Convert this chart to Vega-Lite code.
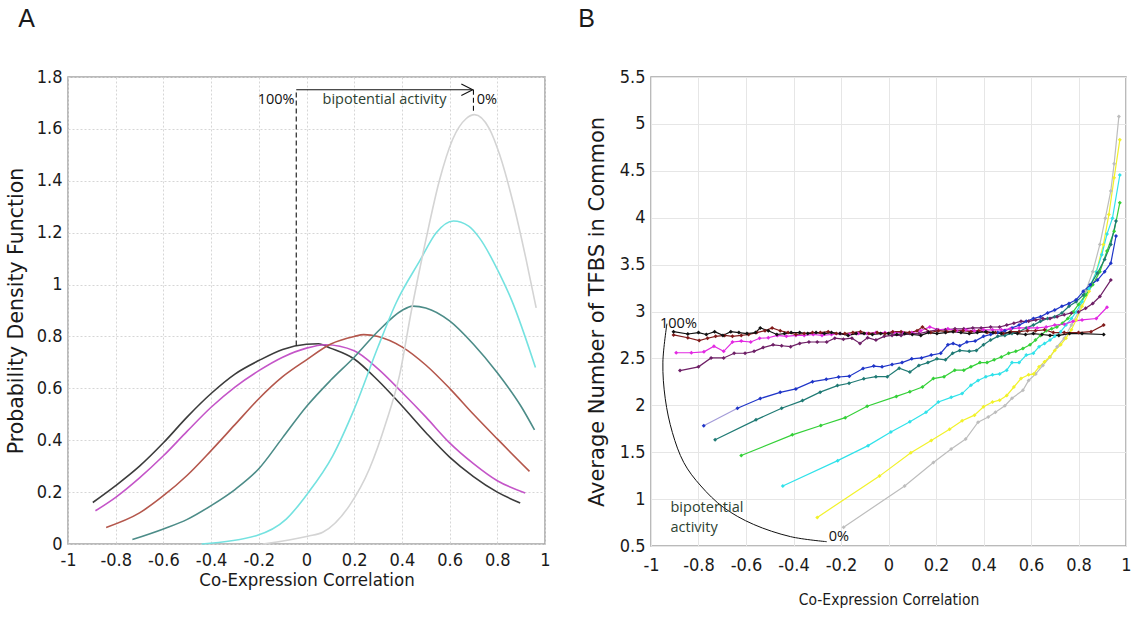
{
  "$schema": "https://vega.github.io/schema/vega-lite/v6.json",
  "background": "white",
  "padding": {"left": 5, "top": 6, "right": 5, "bottom": 5},
  "spacing": 26,
  "datasets": {
    "pdf": [
      {"c": "a1", "x": -0.896, "y": 0.16}, {"c": "a1", "x": -0.8, "y": 0.225}, {"c": "a1", "x": -0.7, "y": 0.3},
      {"c": "a1", "x": -0.6, "y": 0.39}, {"c": "a1", "x": -0.5, "y": 0.49}, {"c": "a1", "x": -0.4, "y": 0.58},
      {"c": "a1", "x": -0.3, "y": 0.655}, {"c": "a1", "x": -0.2, "y": 0.707}, {"c": "a1", "x": -0.1, "y": 0.75},
      {"c": "a1", "x": 0, "y": 0.77}, {"c": "a1", "x": 0.05, "y": 0.772}, {"c": "a1", "x": 0.1, "y": 0.755},
      {"c": "a1", "x": 0.2, "y": 0.713}, {"c": "a1", "x": 0.3, "y": 0.63}, {"c": "a1", "x": 0.4, "y": 0.533},
      {"c": "a1", "x": 0.5, "y": 0.43}, {"c": "a1", "x": 0.6, "y": 0.335}, {"c": "a1", "x": 0.7, "y": 0.26},
      {"c": "a1", "x": 0.8, "y": 0.2}, {"c": "a1", "x": 0.896, "y": 0.158},

      {"c": "a2", "x": -0.885, "y": 0.128}, {"c": "a2", "x": -0.8, "y": 0.18}, {"c": "a2", "x": -0.7, "y": 0.255},
      {"c": "a2", "x": -0.6, "y": 0.34}, {"c": "a2", "x": -0.5, "y": 0.435}, {"c": "a2", "x": -0.4, "y": 0.527},
      {"c": "a2", "x": -0.3, "y": 0.605}, {"c": "a2", "x": -0.2, "y": 0.668}, {"c": "a2", "x": -0.1, "y": 0.72},
      {"c": "a2", "x": 0, "y": 0.755}, {"c": "a2", "x": 0.08, "y": 0.768}, {"c": "a2", "x": 0.2, "y": 0.745},
      {"c": "a2", "x": 0.3, "y": 0.675}, {"c": "a2", "x": 0.4, "y": 0.585}, {"c": "a2", "x": 0.5, "y": 0.49},
      {"c": "a2", "x": 0.6, "y": 0.39}, {"c": "a2", "x": 0.7, "y": 0.31}, {"c": "a2", "x": 0.8, "y": 0.244},
      {"c": "a2", "x": 0.917, "y": 0.197},

      {"c": "a3", "x": -0.84, "y": 0.064}, {"c": "a3", "x": -0.7, "y": 0.12}, {"c": "a3", "x": -0.6, "y": 0.186},
      {"c": "a3", "x": -0.5, "y": 0.265}, {"c": "a3", "x": -0.4, "y": 0.36}, {"c": "a3", "x": -0.3, "y": 0.46},
      {"c": "a3", "x": -0.2, "y": 0.56}, {"c": "a3", "x": -0.1, "y": 0.645}, {"c": "a3", "x": 0, "y": 0.71},
      {"c": "a3", "x": 0.1, "y": 0.77}, {"c": "a3", "x": 0.2, "y": 0.8}, {"c": "a3", "x": 0.24, "y": 0.807},
      {"c": "a3", "x": 0.3, "y": 0.8}, {"c": "a3", "x": 0.4, "y": 0.76}, {"c": "a3", "x": 0.5, "y": 0.69},
      {"c": "a3", "x": 0.6, "y": 0.6}, {"c": "a3", "x": 0.7, "y": 0.5}, {"c": "a3", "x": 0.8, "y": 0.405},
      {"c": "a3", "x": 0.935, "y": 0.28},

      {"c": "a4", "x": -0.73, "y": 0.017}, {"c": "a4", "x": -0.6, "y": 0.058}, {"c": "a4", "x": -0.5, "y": 0.095},
      {"c": "a4", "x": -0.4, "y": 0.148}, {"c": "a4", "x": -0.3, "y": 0.21}, {"c": "a4", "x": -0.2, "y": 0.29},
      {"c": "a4", "x": -0.1, "y": 0.41}, {"c": "a4", "x": 0, "y": 0.53}, {"c": "a4", "x": 0.1, "y": 0.63},
      {"c": "a4", "x": 0.2, "y": 0.72}, {"c": "a4", "x": 0.3, "y": 0.82}, {"c": "a4", "x": 0.4, "y": 0.9},
      {"c": "a4", "x": 0.445, "y": 0.917}, {"c": "a4", "x": 0.5, "y": 0.91}, {"c": "a4", "x": 0.6, "y": 0.86},
      {"c": "a4", "x": 0.7, "y": 0.77}, {"c": "a4", "x": 0.8, "y": 0.66}, {"c": "a4", "x": 0.9, "y": 0.53},
      {"c": "a4", "x": 0.956, "y": 0.44},

      {"c": "a5", "x": -0.44, "y": 0}, {"c": "a5", "x": -0.211, "y": 0.032}, {"c": "a5", "x": -0.085, "y": 0.096},
      {"c": "a5", "x": 0.005, "y": 0.195}, {"c": "a5", "x": 0.11, "y": 0.34}, {"c": "a5", "x": 0.2, "y": 0.52},
      {"c": "a5", "x": 0.3, "y": 0.76}, {"c": "a5", "x": 0.376, "y": 0.93}, {"c": "a5", "x": 0.474, "y": 1.09},
      {"c": "a5", "x": 0.544, "y": 1.2}, {"c": "a5", "x": 0.616, "y": 1.245}, {"c": "a5", "x": 0.68, "y": 1.225},
      {"c": "a5", "x": 0.725, "y": 1.18}, {"c": "a5", "x": 0.81, "y": 1.04}, {"c": "a5", "x": 0.86, "y": 0.94},
      {"c": "a5", "x": 0.96, "y": 0.68},

      {"c": "a6", "x": -0.183, "y": 0}, {"c": "a6", "x": 0.005, "y": 0.03}, {"c": "a6", "x": 0.068, "y": 0.045},
      {"c": "a6", "x": 0.18, "y": 0.148}, {"c": "a6", "x": 0.264, "y": 0.29}, {"c": "a6", "x": 0.334, "y": 0.47},
      {"c": "a6", "x": 0.39, "y": 0.65}, {"c": "a6", "x": 0.44, "y": 0.9}, {"c": "a6", "x": 0.5, "y": 1.17},
      {"c": "a6", "x": 0.557, "y": 1.4}, {"c": "a6", "x": 0.613, "y": 1.56}, {"c": "a6", "x": 0.67, "y": 1.64},
      {"c": "a6", "x": 0.704, "y": 1.655}, {"c": "a6", "x": 0.767, "y": 1.6}, {"c": "a6", "x": 0.81, "y": 1.5},
      {"c": "a6", "x": 0.865, "y": 1.32}, {"c": "a6", "x": 0.92, "y": 1.1}, {"c": "a6", "x": 0.963, "y": 0.91}
    ],
    "tfbs": [
      {"s": "gray", "x": -0.189, "y": 0.7}, {"s": "gray", "x": 0.068, "y": 1.14}, {"s": "gray", "x": 0.189, "y": 1.39},
      {"s": "gray", "x": 0.264, "y": 1.535}, {"s": "gray", "x": 0.325, "y": 1.64}, {"s": "gray", "x": 0.377, "y": 1.82},
      {"s": "gray", "x": 0.42, "y": 1.875}, {"s": "gray", "x": 0.45, "y": 1.925}, {"s": "gray", "x": 0.49, "y": 1.995},
      {"s": "gray", "x": 0.52, "y": 2.075}, {"s": "gray", "x": 0.566, "y": 2.16}, {"s": "gray", "x": 0.59, "y": 2.265},
      {"s": "gray", "x": 0.62, "y": 2.335}, {"s": "gray", "x": 0.65, "y": 2.425}, {"s": "gray", "x": 0.68, "y": 2.515},
      {"s": "gray", "x": 0.71, "y": 2.625}, {"s": "gray", "x": 0.74, "y": 2.715}, {"s": "gray", "x": 0.77, "y": 2.855},
      {"s": "gray", "x": 0.8, "y": 2.995}, {"s": "gray", "x": 0.83, "y": 3.215}, {"s": "gray", "x": 0.86, "y": 3.425},
      {"s": "gray", "x": 0.89, "y": 3.715}, {"s": "gray", "x": 0.913, "y": 3.995}, {"s": "gray", "x": 0.936, "y": 4.285},
      {"s": "gray", "x": 0.95, "y": 4.575}, {"s": "gray", "x": 0.97, "y": 5.08},

      {"s": "yellow", "x": -0.3, "y": 0.805}, {"s": "yellow", "x": -0.038, "y": 1.245}, {"s": "yellow", "x": 0.094, "y": 1.495},
      {"s": "yellow", "x": 0.18, "y": 1.625}, {"s": "yellow", "x": 0.257, "y": 1.745}, {"s": "yellow", "x": 0.31, "y": 1.835},
      {"s": "yellow", "x": 0.362, "y": 1.895}, {"s": "yellow", "x": 0.4, "y": 1.985}, {"s": "yellow", "x": 0.438, "y": 2.035},
      {"s": "yellow", "x": 0.468, "y": 2.055}, {"s": "yellow", "x": 0.498, "y": 2.105}, {"s": "yellow", "x": 0.528, "y": 2.195},
      {"s": "yellow", "x": 0.558, "y": 2.285}, {"s": "yellow", "x": 0.59, "y": 2.325}, {"s": "yellow", "x": 0.611, "y": 2.335},
      {"s": "yellow", "x": 0.634, "y": 2.41}, {"s": "yellow", "x": 0.657, "y": 2.465}, {"s": "yellow", "x": 0.679, "y": 2.515},
      {"s": "yellow", "x": 0.7, "y": 2.585}, {"s": "yellow", "x": 0.725, "y": 2.645}, {"s": "yellow", "x": 0.747, "y": 2.715},
      {"s": "yellow", "x": 0.77, "y": 2.805}, {"s": "yellow", "x": 0.79, "y": 2.91}, {"s": "yellow", "x": 0.815, "y": 3.055},
      {"s": "yellow", "x": 0.845, "y": 3.215}, {"s": "yellow", "x": 0.875, "y": 3.425}, {"s": "yellow", "x": 0.905, "y": 3.715},
      {"s": "yellow", "x": 0.928, "y": 4.035}, {"s": "yellow", "x": 0.95, "y": 4.425}, {"s": "yellow", "x": 0.974, "y": 4.83},

      {"s": "cyan", "x": -0.445, "y": 1.14}, {"s": "cyan", "x": -0.214, "y": 1.41}, {"s": "cyan", "x": -0.086, "y": 1.57},
      {"s": "cyan", "x": 0.01, "y": 1.715}, {"s": "cyan", "x": 0.09, "y": 1.825}, {"s": "cyan", "x": 0.158, "y": 1.925},
      {"s": "cyan", "x": 0.21, "y": 2.035}, {"s": "cyan", "x": 0.264, "y": 2.085}, {"s": "cyan", "x": 0.31, "y": 2.125},
      {"s": "cyan", "x": 0.347, "y": 2.215}, {"s": "cyan", "x": 0.377, "y": 2.265}, {"s": "cyan", "x": 0.41, "y": 2.305},
      {"s": "cyan", "x": 0.438, "y": 2.325}, {"s": "cyan", "x": 0.468, "y": 2.335}, {"s": "cyan", "x": 0.498, "y": 2.375},
      {"s": "cyan", "x": 0.52, "y": 2.455}, {"s": "cyan", "x": 0.55, "y": 2.455}, {"s": "cyan", "x": 0.58, "y": 2.535},
      {"s": "cyan", "x": 0.61, "y": 2.555}, {"s": "cyan", "x": 0.634, "y": 2.625}, {"s": "cyan", "x": 0.657, "y": 2.66},
      {"s": "cyan", "x": 0.68, "y": 2.695}, {"s": "cyan", "x": 0.7, "y": 2.735}, {"s": "cyan", "x": 0.725, "y": 2.785},
      {"s": "cyan", "x": 0.747, "y": 2.855}, {"s": "cyan", "x": 0.77, "y": 2.925}, {"s": "cyan", "x": 0.79, "y": 2.995},
      {"s": "cyan", "x": 0.815, "y": 3.105}, {"s": "cyan", "x": 0.845, "y": 3.245}, {"s": "cyan", "x": 0.875, "y": 3.425},
      {"s": "cyan", "x": 0.898, "y": 3.605}, {"s": "cyan", "x": 0.92, "y": 3.825}, {"s": "cyan", "x": 0.943, "y": 3.995},
      {"s": "cyan", "x": 0.974, "y": 4.455},

      {"s": "green", "x": -0.62, "y": 1.465}, {"s": "green", "x": -0.405, "y": 1.685}, {"s": "green", "x": -0.285, "y": 1.785},
      {"s": "green", "x": -0.182, "y": 1.868}, {"s": "green", "x": -0.09, "y": 1.99}, {"s": "green", "x": 0.033, "y": 2.095},
      {"s": "green", "x": 0.09, "y": 2.145}, {"s": "green", "x": 0.143, "y": 2.195}, {"s": "green", "x": 0.189, "y": 2.285},
      {"s": "green", "x": 0.234, "y": 2.305}, {"s": "green", "x": 0.279, "y": 2.375}, {"s": "green", "x": 0.317, "y": 2.375},
      {"s": "green", "x": 0.347, "y": 2.41}, {"s": "green", "x": 0.385, "y": 2.455}, {"s": "green", "x": 0.415, "y": 2.455},
      {"s": "green", "x": 0.445, "y": 2.485}, {"s": "green", "x": 0.475, "y": 2.515}, {"s": "green", "x": 0.506, "y": 2.555},
      {"s": "green", "x": 0.536, "y": 2.575}, {"s": "green", "x": 0.566, "y": 2.605}, {"s": "green", "x": 0.596, "y": 2.645},
      {"s": "green", "x": 0.619, "y": 2.695}, {"s": "green", "x": 0.64, "y": 2.745}, {"s": "green", "x": 0.664, "y": 2.795},
      {"s": "green", "x": 0.687, "y": 2.815}, {"s": "green", "x": 0.709, "y": 2.835}, {"s": "green", "x": 0.732, "y": 2.875},
      {"s": "green", "x": 0.755, "y": 2.925}, {"s": "green", "x": 0.777, "y": 2.995}, {"s": "green", "x": 0.8, "y": 3.075},
      {"s": "green", "x": 0.83, "y": 3.175}, {"s": "green", "x": 0.86, "y": 3.285}, {"s": "green", "x": 0.89, "y": 3.425},
      {"s": "green", "x": 0.92, "y": 3.645}, {"s": "green", "x": 0.95, "y": 3.855}, {"s": "green", "x": 0.974, "y": 4.16},

      {"s": "teal", "x": -0.73, "y": 1.632}, {"s": "teal", "x": -0.558, "y": 1.845}, {"s": "teal", "x": -0.45, "y": 1.968},
      {"s": "teal", "x": -0.362, "y": 2.05}, {"s": "teal", "x": -0.288, "y": 2.14}, {"s": "teal", "x": -0.215, "y": 2.21},
      {"s": "teal", "x": -0.166, "y": 2.235}, {"s": "teal", "x": -0.104, "y": 2.283}, {"s": "teal", "x": -0.053, "y": 2.305},
      {"s": "teal", "x": -0.005, "y": 2.305}, {"s": "teal", "x": 0.045, "y": 2.395}, {"s": "teal", "x": 0.09, "y": 2.355},
      {"s": "teal", "x": 0.128, "y": 2.425}, {"s": "teal", "x": 0.166, "y": 2.455}, {"s": "teal", "x": 0.204, "y": 2.495},
      {"s": "teal", "x": 0.24, "y": 2.485}, {"s": "teal", "x": 0.27, "y": 2.555}, {"s": "teal", "x": 0.3, "y": 2.585},
      {"s": "teal", "x": 0.34, "y": 2.575}, {"s": "teal", "x": 0.37, "y": 2.585}, {"s": "teal", "x": 0.4, "y": 2.645},
      {"s": "teal", "x": 0.43, "y": 2.695}, {"s": "teal", "x": 0.46, "y": 2.735}, {"s": "teal", "x": 0.49, "y": 2.745},
      {"s": "teal", "x": 0.52, "y": 2.765}, {"s": "teal", "x": 0.55, "y": 2.785}, {"s": "teal", "x": 0.58, "y": 2.825},
      {"s": "teal", "x": 0.61, "y": 2.855}, {"s": "teal", "x": 0.64, "y": 2.895}, {"s": "teal", "x": 0.67, "y": 2.925},
      {"s": "teal", "x": 0.7, "y": 2.945}, {"s": "teal", "x": 0.73, "y": 2.985}, {"s": "teal", "x": 0.76, "y": 3.055},
      {"s": "teal", "x": 0.79, "y": 3.105}, {"s": "teal", "x": 0.82, "y": 3.175}, {"s": "teal", "x": 0.85, "y": 3.285},
      {"s": "teal", "x": 0.88, "y": 3.41}, {"s": "teal", "x": 0.91, "y": 3.555}, {"s": "teal", "x": 0.936, "y": 3.715},
      {"s": "teal", "x": 0.958, "y": 3.965},

      {"s": "blue", "x": -0.636, "y": 1.968}, {"s": "blue", "x": -0.54, "y": 2.072}, {"s": "blue", "x": -0.456, "y": 2.138},
      {"s": "blue", "x": -0.39, "y": 2.175}, {"s": "blue", "x": -0.32, "y": 2.252}, {"s": "blue", "x": -0.262, "y": 2.277},
      {"s": "blue", "x": -0.21, "y": 2.302}, {"s": "blue", "x": -0.165, "y": 2.31}, {"s": "blue", "x": -0.107, "y": 2.392},
      {"s": "blue", "x": -0.062, "y": 2.418}, {"s": "blue", "x": -0.027, "y": 2.41}, {"s": "blue", "x": 0.015, "y": 2.435},
      {"s": "blue", "x": 0.057, "y": 2.455}, {"s": "blue", "x": 0.098, "y": 2.495}, {"s": "blue", "x": 0.139, "y": 2.505},
      {"s": "blue", "x": 0.18, "y": 2.535}, {"s": "blue", "x": 0.22, "y": 2.555}, {"s": "blue", "x": 0.25, "y": 2.645},
      {"s": "blue", "x": 0.272, "y": 2.66}, {"s": "blue", "x": 0.3, "y": 2.635}, {"s": "blue", "x": 0.33, "y": 2.675},
      {"s": "blue", "x": 0.365, "y": 2.685}, {"s": "blue", "x": 0.4, "y": 2.735}, {"s": "blue", "x": 0.43, "y": 2.755},
      {"s": "blue", "x": 0.46, "y": 2.775}, {"s": "blue", "x": 0.49, "y": 2.795}, {"s": "blue", "x": 0.52, "y": 2.825},
      {"s": "blue", "x": 0.55, "y": 2.855}, {"s": "blue", "x": 0.58, "y": 2.895}, {"s": "blue", "x": 0.61, "y": 2.925},
      {"s": "blue", "x": 0.64, "y": 2.945}, {"s": "blue", "x": 0.67, "y": 2.985}, {"s": "blue", "x": 0.7, "y": 3.015},
      {"s": "blue", "x": 0.73, "y": 3.055}, {"s": "blue", "x": 0.76, "y": 3.085}, {"s": "blue", "x": 0.79, "y": 3.125},
      {"s": "blue", "x": 0.82, "y": 3.215}, {"s": "blue", "x": 0.85, "y": 3.285}, {"s": "blue", "x": 0.88, "y": 3.335},
      {"s": "blue", "x": 0.91, "y": 3.425}, {"s": "blue", "x": 0.936, "y": 3.515}, {"s": "blue", "x": 0.958, "y": 3.805},

      {"s": "purple", "x": -0.878, "y": 2.37}, {"s": "purple", "x": -0.8, "y": 2.41}, {"s": "purple", "x": -0.747, "y": 2.505},
      {"s": "purple", "x": -0.694, "y": 2.505}, {"s": "purple", "x": -0.65, "y": 2.555}, {"s": "purple", "x": -0.604, "y": 2.555},
      {"s": "purple", "x": -0.566, "y": 2.575}, {"s": "purple", "x": -0.528, "y": 2.615}, {"s": "purple", "x": -0.486, "y": 2.645},
      {"s": "purple", "x": -0.45, "y": 2.635}, {"s": "purple", "x": -0.412, "y": 2.625}, {"s": "purple", "x": -0.374, "y": 2.66},
      {"s": "purple", "x": -0.335, "y": 2.675}, {"s": "purple", "x": -0.3, "y": 2.675}, {"s": "purple", "x": -0.26, "y": 2.675},
      {"s": "purple", "x": -0.226, "y": 2.715}, {"s": "purple", "x": -0.19, "y": 2.705}, {"s": "purple", "x": -0.154, "y": 2.715},
      {"s": "purple", "x": -0.12, "y": 2.66}, {"s": "purple", "x": -0.088, "y": 2.72}, {"s": "purple", "x": -0.053, "y": 2.695},
      {"s": "purple", "x": -0.018, "y": 2.735}, {"s": "purple", "x": 0.015, "y": 2.745}, {"s": "purple", "x": 0.053, "y": 2.745},
      {"s": "purple", "x": 0.09, "y": 2.765}, {"s": "purple", "x": 0.128, "y": 2.765}, {"s": "purple", "x": 0.166, "y": 2.785},
      {"s": "purple", "x": 0.204, "y": 2.805}, {"s": "purple", "x": 0.24, "y": 2.805}, {"s": "purple", "x": 0.28, "y": 2.815},
      {"s": "purple", "x": 0.317, "y": 2.815}, {"s": "purple", "x": 0.355, "y": 2.825}, {"s": "purple", "x": 0.39, "y": 2.825},
      {"s": "purple", "x": 0.43, "y": 2.835}, {"s": "purple", "x": 0.468, "y": 2.835}, {"s": "purple", "x": 0.498, "y": 2.855},
      {"s": "purple", "x": 0.528, "y": 2.875}, {"s": "purple", "x": 0.558, "y": 2.895}, {"s": "purple", "x": 0.59, "y": 2.895},
      {"s": "purple", "x": 0.62, "y": 2.91}, {"s": "purple", "x": 0.65, "y": 2.925}, {"s": "purple", "x": 0.68, "y": 2.925},
      {"s": "purple", "x": 0.71, "y": 2.945}, {"s": "purple", "x": 0.74, "y": 2.965}, {"s": "purple", "x": 0.77, "y": 2.985},
      {"s": "purple", "x": 0.8, "y": 2.995}, {"s": "purple", "x": 0.83, "y": 3.035}, {"s": "purple", "x": 0.86, "y": 3.085},
      {"s": "purple", "x": 0.89, "y": 3.16}, {"s": "purple", "x": 0.936, "y": 3.335},

      {"s": "magenta", "x": -0.894, "y": 2.56}, {"s": "magenta", "x": -0.83, "y": 2.56}, {"s": "magenta", "x": -0.777, "y": 2.57},
      {"s": "magenta", "x": -0.735, "y": 2.63}, {"s": "magenta", "x": -0.694, "y": 2.575}, {"s": "magenta", "x": -0.657, "y": 2.675},
      {"s": "magenta", "x": -0.62, "y": 2.685}, {"s": "magenta", "x": -0.58, "y": 2.675}, {"s": "magenta", "x": -0.543, "y": 2.715},
      {"s": "magenta", "x": -0.506, "y": 2.72}, {"s": "magenta", "x": -0.468, "y": 2.745}, {"s": "magenta", "x": -0.43, "y": 2.735},
      {"s": "magenta", "x": -0.39, "y": 2.745}, {"s": "magenta", "x": -0.355, "y": 2.745}, {"s": "magenta", "x": -0.317, "y": 2.755},
      {"s": "magenta", "x": -0.28, "y": 2.745}, {"s": "magenta", "x": -0.24, "y": 2.755}, {"s": "magenta", "x": -0.204, "y": 2.765},
      {"s": "magenta", "x": -0.166, "y": 2.755}, {"s": "magenta", "x": -0.128, "y": 2.765}, {"s": "magenta", "x": -0.09, "y": 2.765},
      {"s": "magenta", "x": -0.053, "y": 2.775}, {"s": "magenta", "x": -0.015, "y": 2.775}, {"s": "magenta", "x": 0.023, "y": 2.775},
      {"s": "magenta", "x": 0.06, "y": 2.775}, {"s": "magenta", "x": 0.098, "y": 2.775}, {"s": "magenta", "x": 0.136, "y": 2.795},
      {"s": "magenta", "x": 0.174, "y": 2.835}, {"s": "magenta", "x": 0.21, "y": 2.805}, {"s": "magenta", "x": 0.25, "y": 2.815},
      {"s": "magenta", "x": 0.287, "y": 2.795}, {"s": "magenta", "x": 0.325, "y": 2.805}, {"s": "magenta", "x": 0.362, "y": 2.795},
      {"s": "magenta", "x": 0.4, "y": 2.805}, {"s": "magenta", "x": 0.438, "y": 2.805}, {"s": "magenta", "x": 0.475, "y": 2.805},
      {"s": "magenta", "x": 0.513, "y": 2.815}, {"s": "magenta", "x": 0.55, "y": 2.825}, {"s": "magenta", "x": 0.59, "y": 2.825},
      {"s": "magenta", "x": 0.626, "y": 2.825}, {"s": "magenta", "x": 0.664, "y": 2.835}, {"s": "magenta", "x": 0.7, "y": 2.855},
      {"s": "magenta", "x": 0.74, "y": 2.865}, {"s": "magenta", "x": 0.777, "y": 2.895}, {"s": "magenta", "x": 0.815, "y": 2.91},
      {"s": "magenta", "x": 0.875, "y": 2.925}, {"s": "magenta", "x": 0.92, "y": 3.045},

      {"s": "maroon", "x": -0.905, "y": 2.75}, {"s": "maroon", "x": -0.845, "y": 2.72}, {"s": "maroon", "x": -0.797, "y": 2.69},
      {"s": "maroon", "x": -0.762, "y": 2.715}, {"s": "maroon", "x": -0.728, "y": 2.735}, {"s": "maroon", "x": -0.69, "y": 2.745},
      {"s": "maroon", "x": -0.657, "y": 2.735}, {"s": "maroon", "x": -0.62, "y": 2.745}, {"s": "maroon", "x": -0.589, "y": 2.755},
      {"s": "maroon", "x": -0.555, "y": 2.775}, {"s": "maroon", "x": -0.52, "y": 2.795}, {"s": "maroon", "x": -0.49, "y": 2.825},
      {"s": "maroon", "x": -0.456, "y": 2.795}, {"s": "maroon", "x": -0.423, "y": 2.775}, {"s": "maroon", "x": -0.39, "y": 2.755},
      {"s": "maroon", "x": -0.355, "y": 2.765}, {"s": "maroon", "x": -0.32, "y": 2.775}, {"s": "maroon", "x": -0.287, "y": 2.775},
      {"s": "maroon", "x": -0.254, "y": 2.785}, {"s": "maroon", "x": -0.22, "y": 2.765}, {"s": "maroon", "x": -0.184, "y": 2.765},
      {"s": "maroon", "x": -0.15, "y": 2.775}, {"s": "maroon", "x": -0.118, "y": 2.785}, {"s": "maroon", "x": -0.083, "y": 2.765},
      {"s": "maroon", "x": -0.048, "y": 2.775}, {"s": "maroon", "x": -0.015, "y": 2.765}, {"s": "maroon", "x": 0.018, "y": 2.785},
      {"s": "maroon", "x": 0.053, "y": 2.785}, {"s": "maroon", "x": 0.088, "y": 2.775}, {"s": "maroon", "x": 0.12, "y": 2.795},
      {"s": "maroon", "x": 0.143, "y": 2.835}, {"s": "maroon", "x": 0.178, "y": 2.775}, {"s": "maroon", "x": 0.21, "y": 2.795},
      {"s": "maroon", "x": 0.245, "y": 2.785}, {"s": "maroon", "x": 0.28, "y": 2.795}, {"s": "maroon", "x": 0.314, "y": 2.795},
      {"s": "maroon", "x": 0.347, "y": 2.785}, {"s": "maroon", "x": 0.38, "y": 2.795}, {"s": "maroon", "x": 0.415, "y": 2.775},
      {"s": "maroon", "x": 0.45, "y": 2.775}, {"s": "maroon", "x": 0.483, "y": 2.765}, {"s": "maroon", "x": 0.516, "y": 2.785},
      {"s": "maroon", "x": 0.55, "y": 2.785}, {"s": "maroon", "x": 0.585, "y": 2.795}, {"s": "maroon", "x": 0.619, "y": 2.795},
      {"s": "maroon", "x": 0.657, "y": 2.805}, {"s": "maroon", "x": 0.694, "y": 2.775}, {"s": "maroon", "x": 0.74, "y": 2.775},
      {"s": "maroon", "x": 0.8, "y": 2.775}, {"s": "maroon", "x": 0.853, "y": 2.785}, {"s": "maroon", "x": 0.906, "y": 2.855},

      {"s": "black", "x": -0.905, "y": 2.785}, {"s": "black", "x": -0.845, "y": 2.76}, {"s": "black", "x": -0.8, "y": 2.775},
      {"s": "black", "x": -0.767, "y": 2.755}, {"s": "black", "x": -0.732, "y": 2.785}, {"s": "black", "x": -0.697, "y": 2.745},
      {"s": "black", "x": -0.664, "y": 2.785}, {"s": "black", "x": -0.63, "y": 2.775}, {"s": "black", "x": -0.596, "y": 2.765},
      {"s": "black", "x": -0.56, "y": 2.775}, {"s": "black", "x": -0.54, "y": 2.825}, {"s": "black", "x": -0.506, "y": 2.795},
      {"s": "black", "x": -0.47, "y": 2.755}, {"s": "black", "x": -0.438, "y": 2.765}, {"s": "black", "x": -0.41, "y": 2.775},
      {"s": "black", "x": -0.374, "y": 2.775}, {"s": "black", "x": -0.34, "y": 2.765}, {"s": "black", "x": -0.305, "y": 2.775},
      {"s": "black", "x": -0.27, "y": 2.765}, {"s": "black", "x": -0.24, "y": 2.775}, {"s": "black", "x": -0.204, "y": 2.765},
      {"s": "black", "x": -0.17, "y": 2.745}, {"s": "black", "x": -0.136, "y": 2.765}, {"s": "black", "x": -0.103, "y": 2.765},
      {"s": "black", "x": -0.068, "y": 2.755}, {"s": "black", "x": -0.033, "y": 2.765}, {"s": "black", "x": 0, "y": 2.765},
      {"s": "black", "x": 0.035, "y": 2.755}, {"s": "black", "x": 0.068, "y": 2.765}, {"s": "black", "x": 0.1, "y": 2.755},
      {"s": "black", "x": 0.136, "y": 2.745}, {"s": "black", "x": 0.169, "y": 2.775}, {"s": "black", "x": 0.204, "y": 2.765},
      {"s": "black", "x": 0.24, "y": 2.775}, {"s": "black", "x": 0.272, "y": 2.785}, {"s": "black", "x": 0.305, "y": 2.775},
      {"s": "black", "x": 0.34, "y": 2.765}, {"s": "black", "x": 0.374, "y": 2.775}, {"s": "black", "x": 0.41, "y": 2.785},
      {"s": "black", "x": 0.44, "y": 2.775}, {"s": "black", "x": 0.475, "y": 2.765}, {"s": "black", "x": 0.51, "y": 2.775},
      {"s": "black", "x": 0.543, "y": 2.765}, {"s": "black", "x": 0.577, "y": 2.755}, {"s": "black", "x": 0.61, "y": 2.765},
      {"s": "black", "x": 0.646, "y": 2.755}, {"s": "black", "x": 0.68, "y": 2.745}, {"s": "black", "x": 0.717, "y": 2.745},
      {"s": "black", "x": 0.762, "y": 2.765}, {"s": "black", "x": 0.815, "y": 2.765}, {"s": "black", "x": 0.906, "y": 2.755}
    ],
    "lav": [
      {"x": -0.778, "y": 1.782}, {"x": -0.636, "y": 1.968}
    ],
    "arc": [
      {"o": 1, "x": -0.933, "y": 2.87}, {"o": 2, "x": -0.95, "y": 2.46}, {"o": 3, "x": -0.94, "y": 2.07},
      {"o": 4, "x": -0.91, "y": 1.71}, {"o": 5, "x": -0.862, "y": 1.39}, {"o": 6, "x": -0.79, "y": 1.14},
      {"o": 7, "x": -0.694, "y": 0.91}, {"o": 8, "x": -0.568, "y": 0.73}, {"o": 9, "x": -0.413, "y": 0.6},
      {"o": 10, "x": -0.26, "y": 0.546}
    ]
  },
  "hconcat": [
    {
      "width": 477,
      "height": 467,
      "title": {"text": "A", "anchor": "start", "frame": "bounds", "dx": 12, "offset": 36},
      "layer": [
        {
          "data": {"name": "pdf"},
          "mark": {"type": "line", "strokeWidth": 1.6, "interpolate": "monotone"},
          "encoding": {
            "x": {
              "field": "x", "type": "quantitative",
              "scale": {"domain": [-1, 1], "nice": false},
              "axis": {
                "values": [-1, -0.8, -0.6, -0.4, -0.2, 0, 0.2, 0.4, 0.6, 0.8, 1],
                "format": "~g",
                "labelExpr": "replace(datum.label, '−', '-')",
                "title": "Co-Expression Correlation",
                "titleFont": "Liberation Sans Narrow, DejaVu Sans Condensed, sans-serif",
                "titleFontSize": 18.5,
                "labelPadding": 7,
                "titlePadding": 1
              }
            },
            "y": {
              "field": "y", "type": "quantitative",
              "scale": {"domain": [0, 1.8], "nice": false},
              "axis": {
                "values": [0, 0.2, 0.4, 0.6, 0.8, 1, 1.2, 1.4, 1.6, 1.8],
                "format": "~g",
                "title": "Probability Density Function",
                "titleFont": "DejaVu Sans",
                "titleFontSize": 20.5,
                "titlePadding": 10
              }
            },
            "color": {
              "field": "c", "type": "nominal", "legend": null,
              "scale": {
                "domain": ["a1", "a2", "a3", "a4", "a5", "a6"],
                "range": ["#3c3c3c", "#c455c8", "#b4574c", "#4c8c88", "#74e2e0", "#d4d4d4"]
              }
            }
          }
        },
        {
          "data": {"values": [{"x": -0.043, "y": 0.765, "y2": 1.751}, {"x": 0.7, "y": 1.751, "y2": 1.665}]},
          "mark": {"type": "rule", "color": "#111111", "strokeWidth": 1.1, "strokeDash": [5, 3]},
          "encoding": {
            "x": {"field": "x", "type": "quantitative"},
            "y": {"field": "y", "type": "quantitative"},
            "y2": {"field": "y2"}
          }
        },
        {
          "data": {"values": [{"x": -0.043, "x2": 0.697, "y": 1.751}]},
          "mark": {"type": "rule", "color": "#111111", "strokeWidth": 1.1},
          "encoding": {
            "x": {"field": "x", "type": "quantitative"},
            "x2": {"field": "x2"},
            "y": {"field": "y", "type": "quantitative"}
          }
        },
        {
          "data": {"values": [{"x": 0.697, "y": 1.751}]},
          "mark": {"type": "point", "shape": "M-2,-1L0,0L-2,1", "filled": false, "size": 130, "stroke": "#111111", "strokeWidth": 1.1, "opacity": 1},
          "encoding": {
            "x": {"field": "x", "type": "quantitative"},
            "y": {"field": "y", "type": "quantitative"}
          }
        },
        {
          "data": {"values": [{"x": -0.05, "y": 1.713, "t": "100%"}]},
          "mark": {"type": "text", "align": "right", "baseline": "middle", "fontSize": 14.5, "color": "#111111"},
          "encoding": {
            "x": {"field": "x", "type": "quantitative"},
            "y": {"field": "y", "type": "quantitative"},
            "text": {"field": "t"}
          }
        },
        {
          "data": {"values": [{"x": 0.327, "y": 1.713, "t": "bipotential activity"}]},
          "mark": {"type": "text", "align": "center", "baseline": "middle", "fontSize": 14.5, "color": "#2e4232"},
          "encoding": {
            "x": {"field": "x", "type": "quantitative"},
            "y": {"field": "y", "type": "quantitative"},
            "text": {"field": "t"}
          }
        },
        {
          "data": {"values": [{"x": 0.714, "y": 1.713, "t": "0%"}]},
          "mark": {"type": "text", "align": "left", "baseline": "middle", "fontSize": 14.5, "color": "#111111"},
          "encoding": {
            "x": {"field": "x", "type": "quantitative"},
            "y": {"field": "y", "type": "quantitative"},
            "text": {"field": "t"}
          }
        }
      ]
    },
    {
      "width": 475,
      "height": 469,
      "title": {"text": "B", "anchor": "start", "frame": "bounds", "dx": -8, "offset": 36},
      "layer": [
        {
          "data": {"name": "lav"},
          "mark": {"type": "line", "strokeWidth": 1.2, "color": "#a39bd8"},
          "encoding": {
            "x": {"field": "x", "type": "quantitative", "scale": {"domain": [-1, 1], "nice": false}},
            "y": {"field": "y", "type": "quantitative", "scale": {"domain": [0.5, 5.5], "nice": false}}
          }
        },
        {
          "data": {"name": "tfbs"},
          "mark": {"type": "line", "strokeWidth": 1.2},
          "encoding": {
            "x": {
              "field": "x", "type": "quantitative",
              "scale": {"domain": [-1, 1], "nice": false},
              "axis": {
                "values": [-1, -0.8, -0.6, -0.4, -0.2, 0, 0.2, 0.4, 0.6, 0.8, 1],
                "format": "~g",
                "labelExpr": "replace(datum.label, '−', '-')",
                "title": "Co-Expression Correlation",
                "titleFont": "Liberation Sans Narrow, DejaVu Sans Condensed, sans-serif",
                "titleFontSize": 15.5,
                "labelPadding": 10,
                "titlePadding": 18,
                "gridDash": [],
                "gridColor": "#e6e6e6"
              }
            },
            "y": {
              "field": "y", "type": "quantitative",
              "scale": {"domain": [0.5, 5.5], "nice": false},
              "axis": {
                "values": [0.5, 1, 1.5, 2, 2.5, 3, 3.5, 4, 4.5, 5, 5.5],
                "format": "~g",
                "title": "Average Number of TFBS in Common",
                "titleFont": "DejaVu Sans",
                "titleFontSize": 21,
                "titlePadding": 12,
                "gridDash": [],
                "gridColor": "#e6e6e6"
              }
            },
            "color": {
              "field": "s", "type": "nominal", "legend": null,
              "scale": {
                "domain": ["gray", "yellow", "cyan", "green", "teal", "blue", "purple", "magenta", "maroon", "black"],
                "range": ["#bdbdbd", "#f2f22a", "#30e2ea", "#34d038", "#1f7a74", "#1f35c8", "#6e1f66", "#e22ae2", "#801a1a", "#111111"]
              }
            }
          }
        },
        {
          "data": {"name": "tfbs"},
          "mark": {"type": "point", "filled": true, "shape": "diamond", "size": 16, "opacity": 1},
          "encoding": {
            "x": {"field": "x", "type": "quantitative"},
            "y": {"field": "y", "type": "quantitative"},
            "color": {"field": "s", "type": "nominal", "legend": null}
          }
        },
        {
          "data": {"name": "lav"},
          "transform": [{"filter": "datum.x < -0.7"}],
          "mark": {"type": "point", "filled": true, "shape": "diamond", "size": 16, "opacity": 1, "color": "#1f35c8"},
          "encoding": {
            "x": {"field": "x", "type": "quantitative"},
            "y": {"field": "y", "type": "quantitative"}
          }
        },
        {
          "data": {"name": "arc"},
          "mark": {"type": "line", "interpolate": "cardinal", "color": "#111111", "strokeWidth": 1},
          "encoding": {
            "x": {"field": "x", "type": "quantitative"},
            "y": {"field": "y", "type": "quantitative"},
            "order": {"field": "o", "type": "quantitative"}
          }
        },
        {
          "data": {"values": [{"x": -0.962, "y": 2.87, "t": "100%"}, {"x": -0.252, "y": 0.596, "t": "0%"}]},
          "mark": {"type": "text", "align": "left", "baseline": "middle", "fontSize": 14.5, "color": "#111111"},
          "encoding": {
            "x": {"field": "x", "type": "quantitative"},
            "y": {"field": "y", "type": "quantitative"},
            "text": {"field": "t"}
          }
        },
        {
          "data": {"values": [{"x": -0.918, "y": 0.91, "t": "bipotential"}, {"x": -0.918, "y": 0.69, "t": "activity"}]},
          "mark": {"type": "text", "align": "left", "baseline": "middle", "fontSize": 14.5, "color": "#2e4232"},
          "encoding": {
            "x": {"field": "x", "type": "quantitative"},
            "y": {"field": "y", "type": "quantitative"},
            "text": {"field": "t"}
          }
        }
      ]
    }
  ],
  "resolve": {"scale": {"x": "independent", "y": "independent", "color": "independent"}},
  "config": {
    "view": {"stroke": "#a4a4a4", "strokeWidth": 1.5},
    "title": {"font": "Liberation Sans", "fontSize": 25, "fontWeight": "normal", "color": "#1a1a1a"},
    "text": {"font": "Open Sans"},
    "axis": {
      "domain": false,
      "ticks": false,
      "grid": true,
      "gridColor": "#d6d6d6",
      "gridDash": [2, 2],
      "gridWidth": 1,
      "labelFlush": false,
      "labelFont": "Liberation Sans Narrow, DejaVu Sans Condensed, sans-serif",
      "labelFontSize": 18,
      "labelColor": "#1a1a1a",
      "labelPadding": 6,
      "titleFont": "Liberation Sans",
      "titleFontWeight": "normal",
      "titleColor": "#1a1a1a"
    }
  }
}
